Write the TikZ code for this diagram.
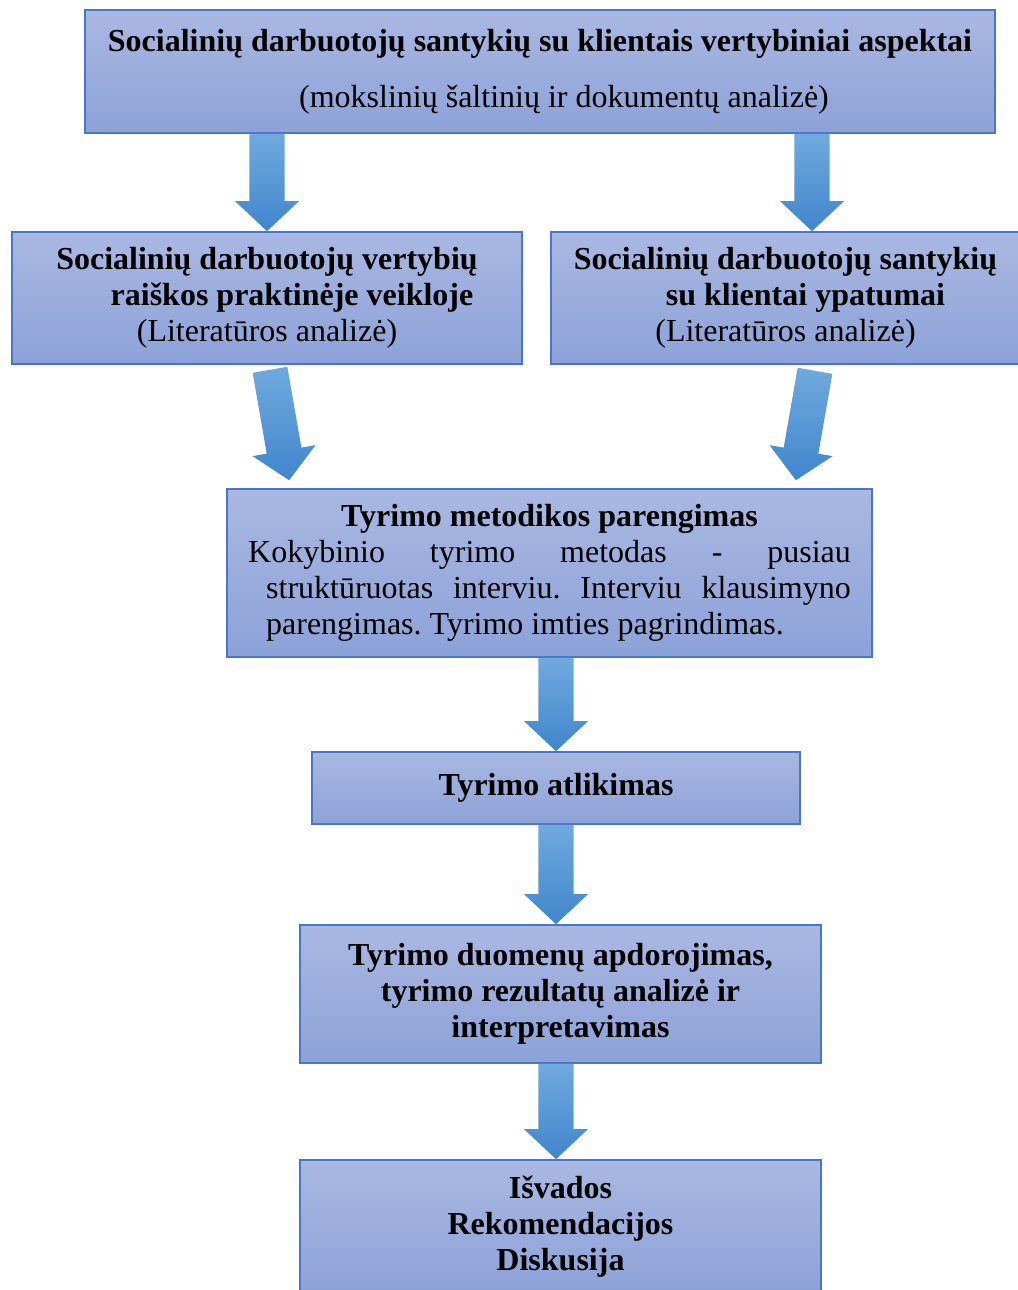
\documentclass[tikz,border=0pt]{standalone}
\usepackage{fontspec}
\setmainfont{Liberation Serif}
\usetikzlibrary{calc}
\frenchspacing
\definecolor{boxhi}{RGB}{170,184,226}
\definecolor{boxlo}{RGB}{140,162,216}
\definecolor{boxline}{RGB}{72,118,200}
\definecolor{arrowhi}{RGB}{112,170,222}
\definecolor{arrowlo}{RGB}{64,134,204}
\def\blockarrow(#1)(#2){\coordinate (hb) at ($(#2)!11.25pt!(#1)$);
	\shade[top color=arrowhi, bottom color=arrowlo] ($(#1)!6.6pt!90:(#2)$) -- ($(hb)!6.6pt!90:(#2)$) -- ($(hb)!12pt!90:(#2)$) -- (#2) -- ($(hb)!12pt!-90:(#2)$) -- ($(hb)!6.6pt!-90:(#2)$) -- ($(#1)!6.6pt!-90:(#2)$) -- cycle;}
\tikzset{box/.style={draw=boxline, line width=0.6pt, top color=boxhi, bottom color=boxlo, inner sep=0pt, font=\fontsize{12}{13.5}\selectfont}}

\begin{document}
\begin{tikzpicture}[x=0.375pt, y=-0.375pt]
	%%%%% START %%%%%
	\useasboundingbox (0, 0) rectangle (1018, 1290);
	
	\node[box, minimum width=341.25pt, minimum height=46.1pt, align=center] (top) at (540, 71.5) {\textbf{Socialinių darbuotojų santykių su klientais vertybiniai aspektai}\\[7.5pt]\hspace*{18pt}(mokslinių šaltinių ir dokumentų analizė)};
	
	\node[box, minimum width=191.25pt, minimum height=49.5pt, align=center] (left) at (267, 298) {\textbf{Socialinių darbuotojų vertybių}\\\hspace*{18.75pt}\textbf{raiškos praktinėje veikloje}\\(Literatūros analizė)};
	\node[box, minimum width=175.9pt, minimum height=49.5pt, align=center] (right) at (785.5, 298) {\textbf{Socialinių darbuotojų santykių}\\\hspace*{15pt}\textbf{su klientai ypatumai}\\(Literatūros analizė)};
	
	\node[box, minimum width=241.9pt, minimum height=63pt] (meth) at (549.5, 573) {\parbox{226pt}{{\centering\textbf{Tyrimo metodikos parengimas}\par}
	\noindent\hangindent=6.75pt\hangafter=1 Kokybinio tyrimo metodas - pusiau\linebreak struktūruotas interviu. Interviu klausimyno\linebreak parengimas. Tyrimo imties pagrindimas.}};
	
	\node[box, minimum width=183pt, minimum height=27pt] (atl) at (556, 788) {\textbf{Tyrimo atlikimas}};
	
	\node[box, minimum width=195.4pt, minimum height=51.75pt, align=center] (duom) at (560.5, 994) {\textbf{Tyrimo duomenų apdorojimas,}\\\textbf{tyrimo rezultatų analizė ir}\\\textbf{interpretavimas}};
	
	\node[box, minimum width=195.4pt, minimum height=49.9pt, align=center] (isv) at (560.5, 1226.5) {\textbf{Išvados}\\\textbf{Rekomendacijos}\\\textbf{Diskusija}};
	
	% arrows
	\coordinate (rt) at ($(right.north)+(26.5, 0)$);
	\coordinate (rs) at (top.south -| rt);
	\coordinate (ls) at (top.south -| left.north);
	\blockarrow(ls)(left.north)
	\blockarrow(rs)(rt)
	
	\coordinate (d1s) at ($(left.south)+(3, 5)$);
	\coordinate (d1t) at ($(meth.north west)+(63, -8)$);
	\coordinate (d2s) at ($(right.south)+(29.5, 6)$);
	\coordinate (d2t) at ($(meth.north east)+(-77, -8)$);
	\blockarrow(d1s)(d1t)
	\blockarrow(d2s)(d2t)
	
	\coordinate (c1) at (meth.south -| atl.north);
	\coordinate (c2) at (duom.north -| atl.south);
	\coordinate (c3) at (duom.south -| atl.south);
	\coordinate (c4) at (isv.north -| atl.south);
	\blockarrow(c1)(atl.north)
	\blockarrow(atl.south)(c2)
	\blockarrow(c3)(c4)
	%%%%% END %%%%%
\end{tikzpicture}
\end{document}
